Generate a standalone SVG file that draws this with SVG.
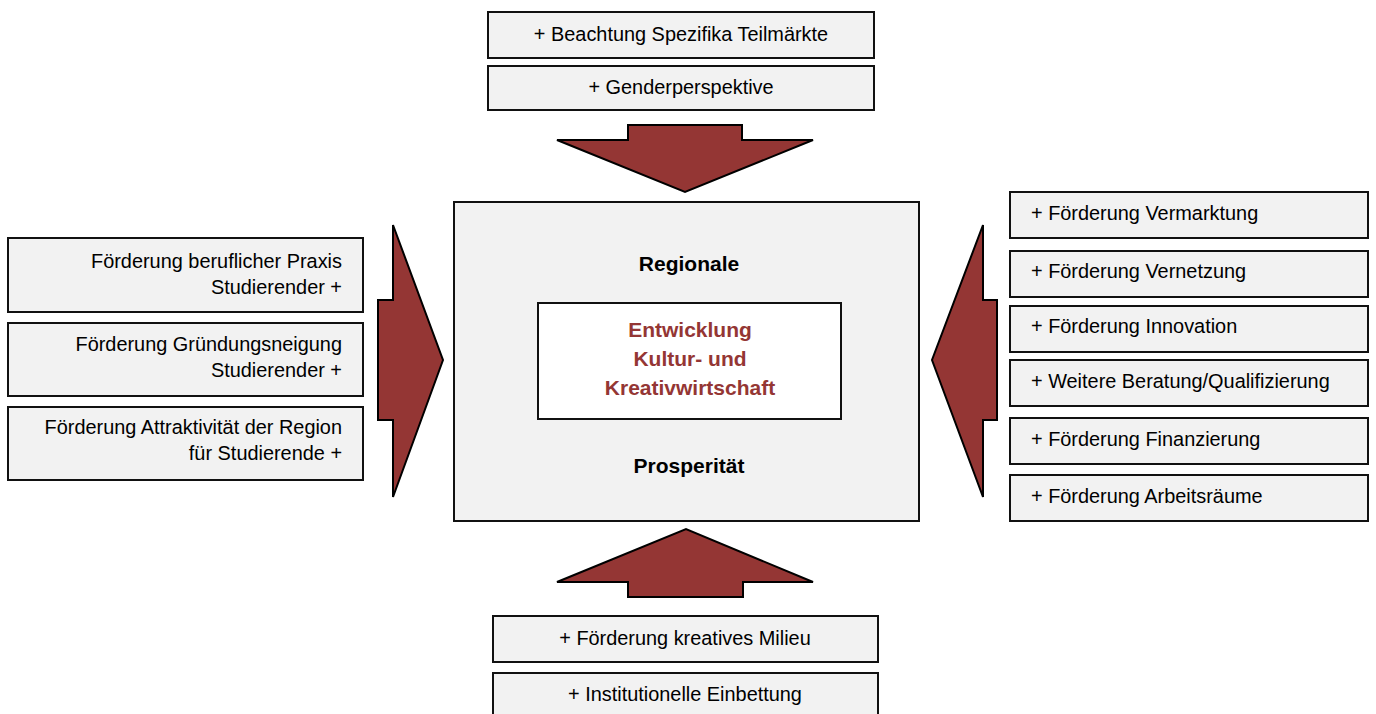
<svg xmlns="http://www.w3.org/2000/svg" width="1376" height="714" viewBox="0 0 1376 714">
<style>
.box{fill:#f2f2f2;stroke:#111;stroke-width:2}
.inner{fill:#fff;stroke:#111;stroke-width:2}
.arrow{fill:#943634;stroke:#000;stroke-width:2;stroke-linejoin:miter}
.t{font-family:"Liberation Sans",Arial,sans-serif;font-size:19.9px;fill:#000}
.c{text-anchor:middle}
.r{text-anchor:end}
.b{font-family:"Liberation Sans",Arial,sans-serif;font-size:21px;font-weight:bold;text-anchor:middle;fill:#000}
.red{fill:#943634}
</style>
<rect width="1376" height="714" fill="#fff"/>
<g id="center">
<rect class="box" x="454" y="202" width="465" height="319"/>
<text class="b" x="689" y="271">Regionale</text>
<text class="b" x="689" y="473">Prosperität</text>
</g>
<g id="core">
<rect class="inner" x="538" y="303" width="303" height="116"/>
<text class="b red" x="690" y="337">Entwicklung</text>
<text class="b red" x="690" y="366">Kultur- und</text>
<text class="b red" x="690" y="395">Kreativwirtschaft</text>
</g>
<g id="connectors">
<polygon class="arrow" points="628,125 742,125 742,140 813,140 685,192 557,140 628,140"/>
<polygon class="arrow" points="628,597 743,597 743,582 813,582 686,529 557,582 628,582"/>
<polygon class="arrow" points="393,225 393,300 378,300 378,420 393,420 393,497 443,360"/>
<polygon class="arrow" points="983,225 983,300 997,300 997,420 983,420 983,497 932,360"/>
</g>
<g id="top1"><rect class="box" x="488" y="12" width="386" height="46"/><text class="t c" x="681" y="41">+ Beachtung Spezifika Teilmärkte</text></g>
<g id="top2"><rect class="box" x="488" y="66" width="386" height="44"/><text class="t c" x="681" y="94">+ Genderperspektive</text></g>
<g id="bot1"><rect class="box" x="493" y="616" width="385" height="46"/><text class="t c" x="685" y="645">+ Förderung kreatives Milieu</text></g>
<g id="bot2"><rect class="box" x="493" y="673" width="385" height="50"/><text class="t c" x="685" y="701">+ Institutionelle Einbettung</text></g>
<g id="left1"><rect class="box" x="8" y="238" width="355" height="74"/><text class="t r" x="342" y="268">Förderung beruflicher Praxis</text><text class="t r" x="342" y="294">Studierender +</text></g>
<g id="left2"><rect class="box" x="8" y="323" width="355" height="73"/><text class="t r" x="342" y="351">Förderung Gründungsneigung</text><text class="t r" x="342" y="377">Studierender +</text></g>
<g id="left3"><rect class="box" x="8" y="407" width="355" height="73"/><text class="t r" x="342" y="434">Förderung Attraktivität der Region</text><text class="t r" x="342" y="460">für Studierende +</text></g>
<g id="right1"><rect class="box" x="1010" y="192" width="358" height="46"/><text class="t" x="1031" y="220">+ Förderung Vermarktung</text></g>
<g id="right2"><rect class="box" x="1010" y="251" width="358" height="46"/><text class="t" x="1031" y="278">+ Förderung Vernetzung</text></g>
<g id="right3"><rect class="box" x="1010" y="306" width="358" height="46"/><text class="t" x="1031" y="333">+ Förderung Innovation</text></g>
<g id="right4"><rect class="box" x="1010" y="360" width="358" height="46"/><text class="t" x="1031" y="388">+ Weitere Beratung/Qualifizierung</text></g>
<g id="right5"><rect class="box" x="1010" y="418" width="358" height="46"/><text class="t" x="1031" y="446">+ Förderung Finanzierung</text></g>
<g id="right6"><rect class="box" x="1010" y="475" width="358" height="46"/><text class="t" x="1031" y="503">+ Förderung Arbeitsräume</text></g>
</svg>
